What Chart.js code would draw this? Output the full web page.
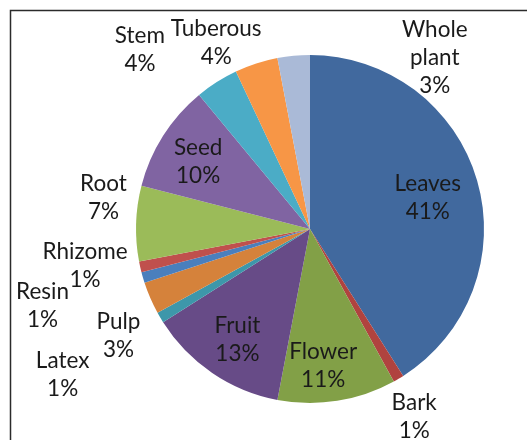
<!DOCTYPE html>
<html>
<head>
<meta charset="utf-8">
<script src="https://cdn.jsdelivr.net/npm/chart.js@4.4.0/dist/chart.umd.min.js"></script>
<style>
  html, body { margin: 0; padding: 0; background: #fff; }
  #wrap { width: 527px; height: 440px; position: relative; }
</style>
</head>
<body>
<div id="wrap"><canvas id="pieChart" width="527" height="440"></canvas></div>
<script>
// dados do gráfico
const parts = ['Leaves', 'Bark', 'Flower', 'Fruit', 'Latex', 'Pulp', 'Resin', 'Rhizome', 'Root', 'Seed', 'Stem', 'Tuberous', 'Whole plant'];
const shares = [41, 1, 11, 13, 1, 3, 1, 1, 7, 10, 4, 4, 3];

// cores das fatias (paleta do Excel)
const sliceColors = ['#41699e', '#b0433f', '#82a047', '#674b87', '#3d97aa', '#d5823b', '#4a7fbd', '#c0504d', '#9bbb59', '#8064a2', '#4bacc6', '#f79646', '#aabad7'];

// posição dos rótulos: fator do raio e desvio angular (graus)
const labelRadius = [0.70, 1.235, 0.79, 0.76, 1.65, 1.26, 1.6, 1.31, 1.20, 0.75, 1.42, 1.2, 1.22];
const labelShift = [1.4, 1.6, 3.5, -0.9, 0.1, -5.7, 0.1, 3.3, 6.7, -1.4, -11.1, -8.7, 41.4];

const FONT = '22.5px Lato, "Open Sans", sans-serif';
const LINE_H = 28;

// moldura (linhas de borda do quadro)
const framePlugin = {
    id: 'frame',
    beforeDraw(chart) {
        const c = chart.ctx;
        c.save();
        c.strokeStyle = '#2b2b2b';
        c.lineWidth = 1.5;
        c.beginPath();
        c.moveTo(10.5, chart.height);
        c.lineTo(10.5, 10.5);
        c.lineTo(chart.width, 10.5);
        c.stroke();
        c.restore();
    }
};

// rótulos de dados
const labelPlugin = {
    id: 'sliceLabels',
    afterDatasetsDraw(chart) {
        const c = chart.ctx;
        const meta = chart.getDatasetMeta(0);
        const total = shares.reduce((a, b) => a + b, 0);
        c.save();
        c.font = FONT;
        c.fillStyle = '#1a1a1a';
        c.textAlign = 'center';
        c.textBaseline = 'middle';
        meta.data.forEach((arc, i) => {
            const p = arc.getProps(['x', 'y', 'startAngle', 'endAngle', 'outerRadius'], true);
            const mid = (p.startAngle + p.endAngle) / 2 + labelShift[i] * Math.PI / 180;
            const r = p.outerRadius * labelRadius[i];
            const x = p.x + Math.cos(mid) * r;
            const y = p.y + Math.sin(mid) * r;
            const pct = Math.round(shares[i] / total * 100) + '%';
            const lines = parts[i] === 'Whole plant' ? ['Whole', 'plant', pct] : [parts[i], pct];
            const top = y - (lines.length - 1) * LINE_H / 2;
            lines.forEach((t, k) => c.fillText(t, x, top + k * LINE_H));
        });
        c.restore();
    }
};

const ctx = document.getElementById('pieChart').getContext('2d');
new Chart(ctx, {
    type: 'pie',
    data: {
        labels: parts,
        datasets: [{
            data: shares,
            backgroundColor: sliceColors,
            borderWidth: 0
        }]
    },
    options: {
        responsive: false,
        animation: false,
        layout: { padding: { left: 136, right: 43, top: 55, bottom: 37 } },
        plugins: {
            legend: { display: false },
            tooltip: { enabled: false }
        }
    },
    plugins: [framePlugin, labelPlugin]
});
</script>
</body>
</html>
